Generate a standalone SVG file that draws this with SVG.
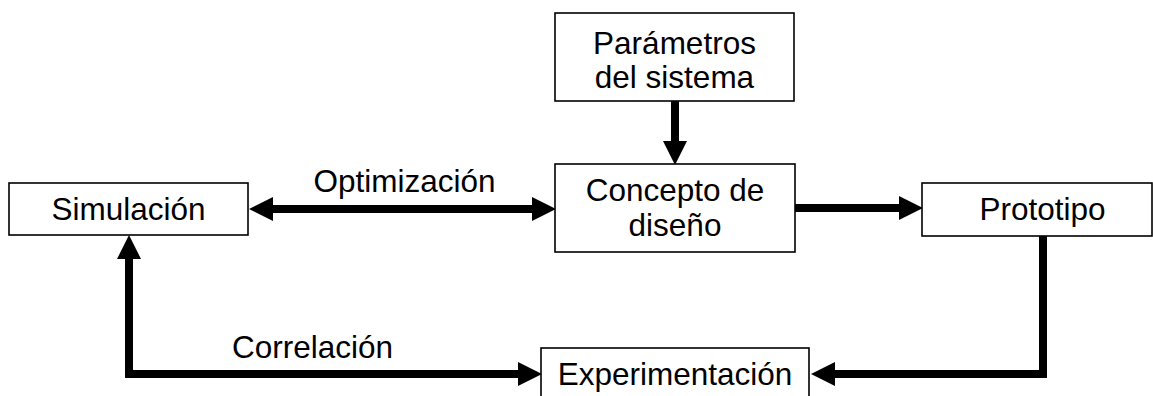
<svg xmlns="http://www.w3.org/2000/svg" width="1153" height="396" viewBox="0 0 1153 396">
  <style>
    .box { fill: #ffffff; stroke: #000000; stroke-width: 1.6; }
    .lbl { font-family: "Liberation Sans", Arial, sans-serif; font-size: 31.5px; fill: #000000; text-anchor: middle; }
    .conn { fill: none; stroke: #000000; stroke-width: 8; stroke-linejoin: miter; stroke-linecap: butt; }
  </style>
  <defs>
    <marker id="ah" markerUnits="userSpaceOnUse" markerWidth="24" markerHeight="24" viewBox="0 0 24 24" refX="0" refY="12" orient="auto-start-reverse">
      <path d="M0,0 L24,12 L0,24 z" fill="#000000"/>
    </marker>
  </defs>
  <rect width="1153" height="396" fill="#ffffff"/>

  <g id="connectors">
    <line class="conn" x1="675" y1="101" x2="675" y2="141" marker-end="url(#ah)"/>
    <line class="conn" x1="273" y1="209" x2="532" y2="209" marker-start="url(#ah)" marker-end="url(#ah)"/>
    <line class="conn" x1="795" y1="208" x2="899" y2="208" marker-end="url(#ah)"/>
    <polyline class="conn" points="1043,236 1043,374 835,374" marker-end="url(#ah)"/>
    <polyline class="conn" points="518,374 129,374 129,259" marker-start="url(#ah)" marker-end="url(#ah)"/>
    <text class="lbl" x="404.5" y="192">Optimización</text>
    <text class="lbl" x="312.5" y="358">Correlación</text>
  </g>

  <g id="simulacion">
    <rect class="box" x="9" y="183" width="239" height="52"/>
    <text class="lbl" x="128.5" y="220">Simulación</text>
  </g>

  <g id="parametros">
    <rect class="box" x="555" y="13" width="239" height="88"/>
    <text class="lbl" x="674.5" y="54">Parámetros</text>
    <text class="lbl" x="674.5" y="88">del sistema</text>
  </g>

  <g id="concepto">
    <rect class="box" x="555" y="164" width="240" height="88"/>
    <text class="lbl" x="675" y="201">Concepto de</text>
    <text class="lbl" x="675" y="236">diseño</text>
  </g>

  <g id="prototipo">
    <rect class="box" x="922" y="183" width="230" height="53"/>
    <text class="lbl" x="1042.5" y="220">Prototipo</text>
  </g>

  <g id="experimentacion">
    <rect class="box" x="541" y="348" width="268" height="60"/>
    <text class="lbl" x="675" y="385">Experimentación</text>
  </g>
</svg>
